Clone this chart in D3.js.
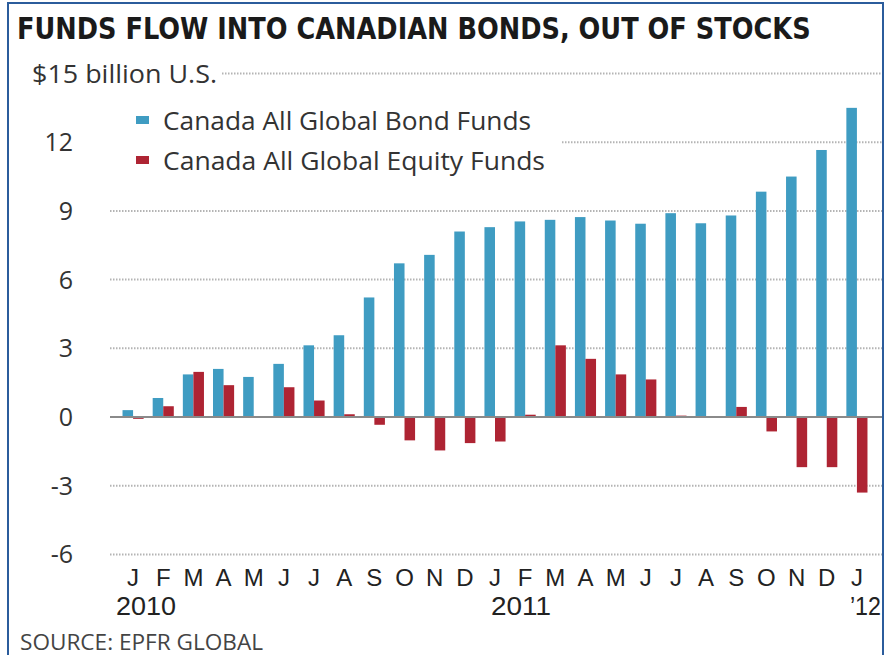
<!DOCTYPE html>
<html>
<head>
<meta charset="utf-8">
<script src="https://cdn.jsdelivr.net/npm/d3@7"></script>
<style>
  body { margin: 0; background: #fff; }
  svg text { font-family: "Open Sans", "Noto Sans", sans-serif; fill: #222; }
</style>
</head>
<body>
<script>
// monthly flows, billions of U.S. dollars
var months = ["J","F","M","A","M","J","J","A","S","O","N","D",
              "J","F","M","A","M","J","J","A","S","O","N","D","J"];
var bondFunds = [0.3, 0.83, 1.86, 2.1, 1.75, 2.32, 3.13, 3.57, 5.22, 6.71, 7.08, 8.1,
                 8.29, 8.54, 8.61, 8.73, 8.58, 8.44, 8.9, 8.46, 8.8, 9.84, 10.5, 11.66, 13.5];
var equityFunds = [-0.08, 0.47, 1.97, 1.39, 0.02, 1.3, 0.72, 0.12, -0.34, -1.02, -1.46, -1.14,
                   -1.07, 0.1, 3.13, 2.54, 1.86, 1.64, 0.06, 0.03, 0.44, -0.63, -2.19, -2.19, -3.3];
var seriesNames = ["Canada All Global Bond Funds", "Canada All Global Equity Funds"];
var yTicks = [12, 9, 6, 3, 0, -3, -6];
var topLabel = "$15 billion U.S.";
var yearLabels = [{i: 0, text: "2010"}, {i: 12, text: "2011"}, {i: 24, text: "\u201912"}];

var width = 886, height = 655;
var colors = ["#3f9cc2", "#ae2433"];

var svg = d3.select("body").append("svg")
    .attr("width", width)
    .attr("height", height);

// blue frame
svg.append("rect")
    .attr("x", 8).attr("y", 3)
    .attr("width", 875).attr("height", 660)
    .attr("fill", "none")
    .attr("stroke", "#2b5c9c")
    .attr("stroke-width", 2);

// title, squeezed horizontally to the reference width
var title = svg.append("text")
    .attr("x", 0).attr("y", 0)
    .style("font-family", "'DejaVu Sans Condensed', 'Liberation Sans Narrow', sans-serif")
    .style("font-weight", "bold")
    .style("font-size", "31px")
    .style("fill", "#1a1a1a")
    .text("FUNDS FLOW INTO CANADIAN BONDS, OUT OF STOCKS");
var tw = title.node().getComputedTextLength();
title.attr("transform", "translate(17,39) scale(" + (794 / tw) + ",1)");

var y = d3.scaleLinear().domain([-6, 15]).range([554.4, 73.5]);

var idx = d3.range(months.length);
var x = d3.scaleBand().domain(idx).range([118, 872]).paddingInner(0.3).paddingOuter(0.15);
var xs = d3.scaleBand().domain([0, 1]).range([0, x.bandwidth()]);

// gridlines
var grid = svg.append("g");
var gridStart = function (v) { return v === 15 ? 222 : v === 12 ? 562 : 110; };
grid.selectAll("line")
    .data([15, 12, 9, 6, 3, -3, -6])
    .enter().append("line")
    .attr("x1", gridStart)
    .attr("x2", 882)
    .attr("y1", function (d) { return y(d); })
    .attr("y2", function (d) { return y(d); })
    .attr("stroke", "#b4b4b4")
    .attr("stroke-width", 2)
    .attr("stroke-dasharray", "1.5,1.5");

// y labels
svg.append("g").selectAll("text")
    .data(yTicks)
    .enter().append("text")
    .attr("x", 73)
    .attr("y", function (d) { return y(d) + 9; })
    .attr("text-anchor", "end")
    .style("font-size", "25px")
    .style("fill", "#333")
    .text(function (d) { return d < 0 ? "-" + Math.abs(d) : d; });

svg.append("text")
    .attr("x", 32).attr("y", y(15) + 9)
    .attr("textLength", 185)
    .attr("lengthAdjust", "spacingAndGlyphs")
    .style("font-size", "25px")
    .style("fill", "#333")
    .text(topLabel);

// bars
var series = [bondFunds, equityFunds];
series.forEach(function (vals, s) {
  svg.append("g").selectAll("rect")
      .data(vals)
      .enter().append("rect")
      .attr("x", function (d, i) { return x(i) + xs(s); })
      .attr("width", xs.bandwidth())
      .attr("y", function (d) { return y(Math.max(0, d)); })
      .attr("height", function (d) { return Math.abs(y(d) - y(0)); })
      .attr("fill", colors[s]);
});

// zero line
svg.append("line")
    .attr("x1", 110).attr("x2", 882)
    .attr("y1", y(0)).attr("y2", y(0))
    .attr("stroke", "#8a8a8a")
    .attr("stroke-width", 2);

// legend
var legend = svg.append("g");
seriesNames.forEach(function (name, s) {
  var cy = 120 + s * 40;
  legend.append("rect")
      .attr("x", 136).attr("y", cy - 4)
      .attr("width", 13).attr("height", 8)
      .attr("fill", colors[s]);
  legend.append("text")
      .attr("x", 163).attr("y", cy + 10)
      .attr("textLength", s === 0 ? 368 : 382)
      .attr("lengthAdjust", "spacingAndGlyphs")
      .style("font-size", "26px")
      .style("fill", "#333")
      .text(name);
});

// month axis
var xAxis = d3.axisBottom(x)
    .tickSize(0)
    .tickFormat(function (i) { return months[i]; });
var ax = svg.append("g")
    .attr("transform", "translate(0,566)")
    .call(xAxis);
ax.select(".domain").remove();
ax.selectAll("text")
    .attr("dy", 0).attr("y", 20)
    .style("font-family", "'Liberation Sans', sans-serif")
    .style("font-size", "24px")
    .style("fill", "#222");

// year labels
svg.append("g").selectAll("text")
    .data(yearLabels)
    .enter().append("text")
    .attr("x", function (d, k) {
      var c = x(d.i) + x.bandwidth() / 2;
      return k === 0 ? c - 17 : k === 1 ? c - 4 : c + 24;
    })
    .attr("y", 615)
    .attr("text-anchor", function (d, k) { return k === 2 ? "end" : "start"; })
    .style("font-family", "'Liberation Sans', sans-serif")
    .style("font-size", "25px")
    .style("fill", "#222")
    .attr("textLength", function (d, k) { return k === 2 ? 31 : 60; })
    .attr("lengthAdjust", "spacingAndGlyphs")
    .text(function (d) { return d.text; });

svg.append("text")
    .attr("x", 20).attr("y", 650)
    .attr("textLength", 243)
    .attr("lengthAdjust", "spacingAndGlyphs")
    .style("font-size", "21px")
    .style("fill", "#444")
    .text("SOURCE: EPFR GLOBAL");
</script>
</body>
</html>
